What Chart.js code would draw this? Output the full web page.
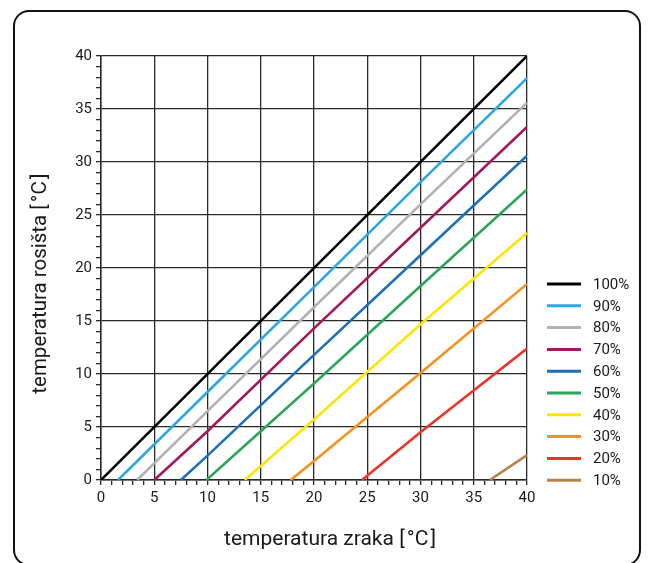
<!DOCTYPE html>
<html>
<head>
<meta charset="utf-8">
<script src="https://cdn.jsdelivr.net/npm/chart.js@4"></script>
<style>
  html, body { margin: 0; padding: 0; background: #fff; }
  #wrap { position: relative; width: 649px; height: 563px; overflow: hidden; }
  #card {
    position: absolute; left: 13px; top: 10px; width: 628px; height: 556px;
    border: 2.5px solid #111; border-radius: 16px; box-sizing: border-box;
  }
  #graf { position: absolute; left: 0; top: 0; }
</style>
</head>
<body>
<div id="wrap">
  <div id="card"></div>
  <canvas id="graf" width="649" height="563"></canvas>
</div>
<script>
// tocke [temperatura zraka, temperatura rosista] ocitane s grafa
const rh100 = [[0, 0], [40, 40]];
const rh90 = [[1.6, 0], [10, 8.3], [20, 18.2], [30, 28.1], [40, 37.9]];
const rh80 = [[3.4, 0], [10, 6.5], [20, 16.3], [30, 26.0], [40, 35.6]];
const rh70 = [[5.0, 0], [10, 4.6], [20, 14.3], [30, 23.8], [40, 33.3]];
const rh60 = [[7.5, 0], [10, 2.3], [20, 11.8], [30, 21.2], [40, 30.6]];
const rh50 = [[9.9, 0], [20, 9.1], [30, 18.3], [40, 27.4]];
const rh40 = [[13.5, 0], [20, 5.7], [30, 14.7], [40, 23.3]];
const rh30 = [[17.8, 0], [20, 1.8], [30, 10.1], [40, 18.5]];
const rh20 = [[24.5, 0], [30, 4.5], [40, 12.4]];
const rh10 = [[36.5, 0], [40, 2.35]];

const nazivi = ['100%', '90%', '80%', '70%', '60%', '50%', '40%', '30%', '20%', '10%'];
const serije = [rh100, rh90, rh80, rh70, rh60, rh50, rh40, rh30, rh20, rh10];
const boje = ['#000000', '#2ea7e0', '#b2b2b2', '#a2195b', '#1d6fb8', '#2ca55a',
              '#ffe500', '#f7901e', '#e8352c', '#b5834f'];

const xMin = 0, xMax = 40, yMin = 0, yMax = 40;

Chart.defaults.font.family = 'Roboto';
Chart.defaults.color = '#1a1a1a';

// legenda desno, crtana rucno
const legendaPlugin = {
  id: 'legendaDesno',
  afterDraw(chart) {
    const ctx = chart.ctx;
    const x0 = 547, y0 = 284, razmak = 21.8;
    ctx.save();
    ctx.font = '15px Roboto';
    ctx.textBaseline = 'middle';
    chart.data.datasets.forEach((ds, i) => {
      const y = y0 + i * razmak;
      ctx.strokeStyle = ds.borderColor;
      ctx.lineWidth = 3;
      ctx.beginPath();
      ctx.moveTo(x0, y);
      ctx.lineTo(x0 + 34, y);
      ctx.stroke();
      ctx.fillStyle = '#1a1a1a';
      ctx.fillText(ds.label, x0 + 46, y + 1);
    });
    ctx.restore();
  }
};

const ctx = document.getElementById('graf').getContext('2d');
new Chart(ctx, {
  type: 'line',
  data: {
    datasets: serije.map((s, i) => ({
      label: nazivi[i],
      data: s.map(p => ({ x: p[0], y: p[1] })),
      borderColor: boje[i],
      backgroundColor: boje[i],
      borderWidth: 2.6,
      pointRadius: 0,
      tension: 0,
      fill: false
    }))
  },
  options: {
    responsive: false,
    animation: false,
    layout: { padding: { left: 25, right: 122, top: 56, bottom: 7 } },
    plugins: { legend: { display: false }, tooltip: { enabled: false } },
    scales: {
      x: {
        type: 'linear', min: xMin, max: xMax,
        ticks: {
          stepSize: 1, autoSkip: false, maxRotation: 0, padding: 4,
          font: { size: 15 },
          callback: v => (v % 5 === 0 ? v : '')
        },
        grid: {
          color: c => (c.tick && c.tick.value % 5 === 0 ? '#2a2a2a' : 'rgba(0,0,0,0)'),
          tickColor: '#2a2a2a', tickLength: 5, lineWidth: 1.3, tickWidth: 1.3
        },
        border: { color: '#2a2a2a', width: 1.5 },
        title: {
          display: true, text: '\u2003\u2002temperatura zraka [\u200A°C\u200A]',
          font: { size: 21 }, padding: 4
        },
        afterFit: s => { s.height = 76; }
      },
      y: {
        type: 'linear', min: yMin, max: yMax,
        ticks: {
          stepSize: 1, autoSkip: false, padding: 4,
          font: { size: 15 },
          callback: v => (v % 5 === 0 ? v : '')
        },
        grid: {
          color: c => (c.tick && c.tick.value % 5 === 0 ? '#2a2a2a' : 'rgba(0,0,0,0)'),
          tickColor: '#2a2a2a', tickLength: 5, lineWidth: 1.3, tickWidth: 1.3
        },
        border: { color: '#2a2a2a', width: 1.5 },
        title: {
          display: true, text: 'temperatura rosišta [\u200A°C\u200A]\u2003\u2002',
          font: { size: 20.5 }, padding: 4
        },
        afterFit: s => { s.width = 76; }
      }
    }
  },
  plugins: [legendaPlugin]
});
</script>
</body>
</html>
